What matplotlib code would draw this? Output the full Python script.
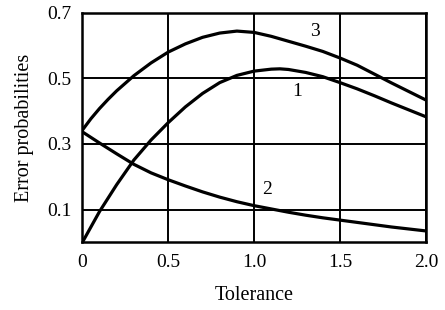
import matplotlib
matplotlib.use("Agg")
import matplotlib.pyplot as plt

plt.rcParams['font.family'] = ['Liberation Serif', 'DejaVu Serif']

# Curve 1
x1 = [0, 0.05, 0.1, 0.2, 0.3, 0.4, 0.5, 0.6, 0.7, 0.8, 0.9, 1.0, 1.1, 1.15, 1.2, 1.3, 1.4, 1.5, 1.6, 1.7, 1.8, 1.9, 2.0]
y1 = [0.0, 0.047, 0.094, 0.176, 0.251, 0.312, 0.365, 0.413, 0.454, 0.487, 0.509, 0.522, 0.528, 0.529, 0.527, 0.518, 0.505, 0.487, 0.468, 0.447, 0.425, 0.404, 0.383]

# Curve 2
x2 = [0, 0.1, 0.2, 0.3, 0.4, 0.5, 0.6, 0.7, 0.8, 0.9, 1.0, 1.1, 1.2, 1.3, 1.4, 1.5, 1.6, 1.7, 1.8, 1.9, 2.0]
y2 = [0.337, 0.303, 0.270, 0.238, 0.212, 0.191, 0.172, 0.154, 0.138, 0.124, 0.112, 0.102, 0.092, 0.083, 0.075, 0.068, 0.061, 0.054, 0.047, 0.041, 0.035]

# Curve 3
x3 = [0, 0.05, 0.1, 0.15, 0.2, 0.3, 0.4, 0.5, 0.6, 0.7, 0.8, 0.9, 1.0, 1.1, 1.2, 1.3, 1.4, 1.5, 1.6, 1.7, 1.8, 1.9, 2.0]
y3 = [0.342, 0.377, 0.408, 0.436, 0.462, 0.508, 0.547, 0.580, 0.605, 0.625, 0.638, 0.644, 0.640, 0.628, 0.613, 0.598, 0.582, 0.562, 0.540, 0.513, 0.486, 0.460, 0.434]

curve_labels = ["1", "2", "3"]
label_x = [1.25, 1.075, 1.357]
label_y = [0.459, 0.160, 0.642]

xticks = [0, 0.5, 1.0, 1.5, 2.0]
xtick_labels = ["0", "0.5", "1.0", "1.5", "2.0"]
yticks = [0.1, 0.3, 0.5, 0.7]
ytick_labels = ["0.1", "0.3", "0.5", "0.7"]

fig = plt.figure(figsize=(4.45, 3.10), dpi=100)
ax = fig.add_axes([0.185, 0.218, 0.772, 0.741])

for xs, ys in [(x1, y1), (x2, y2), (x3, y3)]:
    ax.plot(xs, ys, color='black', lw=2.3, solid_capstyle='round', solid_joinstyle='round', zorder=3)

for t, lx, ly in zip(curve_labels, label_x, label_y):
    ax.text(lx, ly, t, fontsize=14, ha='center', va='center', color='black')

ax.set_xlim(0, 2.0)
ax.set_ylim(0, 0.7)
ax.set_xticks(xticks)
ax.set_xticklabels(xtick_labels)
ax.set_yticks(yticks)
ax.set_yticklabels(ytick_labels)
ax.tick_params(length=0, labelsize=14, pad=8)
ax.grid(True, color='black', lw=1.4)
for s in ax.spines.values():
    s.set_linewidth(1.8)

ax.set_xlabel("Tolerance", fontsize=14.5, labelpad=11)
ax.set_ylabel("Error probabilities", fontsize=14.5, labelpad=9)

fig.savefig("out.png", dpi=100)
